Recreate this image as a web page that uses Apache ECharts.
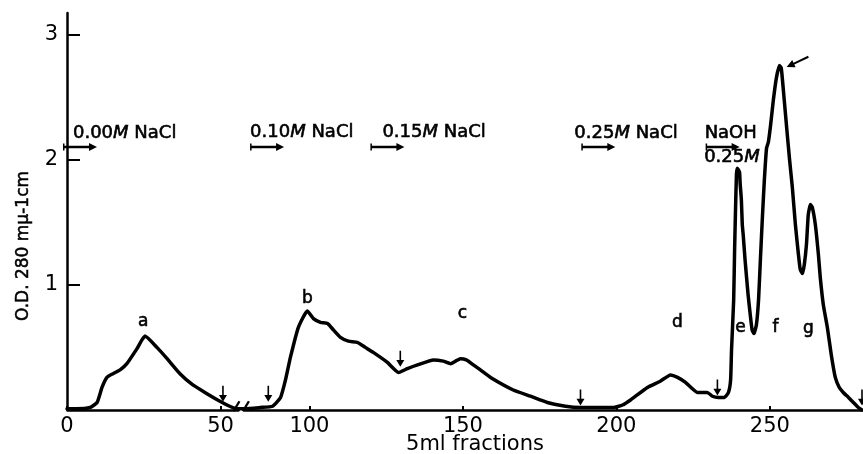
<!DOCTYPE html>
<html><head><meta charset="utf-8">
<script src="https://cdn.jsdelivr.net/npm/echarts@6/dist/echarts.min.js"></script>
<style>html,body{margin:0;padding:0;background:#fff}#c{width:863px;height:454px}</style>
</head><body><div id="c"></div>
<script>
// ---- data ----
// fraction number (5 ml fractions) and O.D. 280 mμ for the elution profile
const fractions = [0,3,7.5,9.8,11.4,13,15,17.3,19.5,22.8,25.4,29.3,32.6,36.8,41,45.6,49.8,53,55.4,
  79,84,88,90.6,92.2,93.8,96.4,99.3,101.3,103.6,105.9,107.8,110.1,112.7,115.6,118.2,120.8,125.4,129,131.9,135.2,140.4,143.6,146,147.6,149.2,151.1,153.4,155.7,159,166.4,172,177.5,183.4,188.3,194.1,199,202,204.6,210.1,214.3,217.6,219.9,222.5,226.4,229.6,231.3,233.2,235.2,236.5,237.2,237.5,238.2,238.5,238.8,239.1,239.4,240.1,240.3,240.7,241,241.3,241.9,242.9,243.6,244.2,244.8,245.6,246.3,246.9,247.6,248.2,248.9,249.5,250.2,251.1,252.1,253.1,253.7,254.4,255.4,256.4,257.3,258.3,259.3,259.9,260.6,261.2,261.9,262.5,263.2,263.8,264.8,265.8,266.4,267.4,268.7,270,271.3,272.6,273.9,275.6,277.2,278.8,280];
const od280 = [0.01,0.01,0.02,0.06,0.18,0.26,0.29,0.32,0.37,0.49,0.59,0.50,0.41,0.29,0.20,0.13,0.07,0.03,0.01,
  0.01,0.02,0.03,0.10,0.24,0.42,0.66,0.79,0.73,0.70,0.69,0.64,0.58,0.55,0.54,0.50,0.46,0.38,0.30,0.33,0.36,0.40,0.39,0.37,0.39,0.41,0.40,0.36,0.32,0.26,0.16,0.11,0.06,0.03,0.02,0.02,0.02,0.04,0.08,0.18,0.23,0.28,0.26,0.22,0.14,0.14,0.11,0.10,0.10,0.14,0.24,0.48,0.88,1.28,1.60,1.88,1.93,1.90,1.81,1.68,1.48,1.40,1.20,0.92,0.76,0.64,0.61,0.68,0.88,1.20,1.56,1.84,2.09,2.14,2.27,2.47,2.65,2.75,2.73,2.55,2.27,2.00,1.78,1.48,1.24,1.12,1.09,1.16,1.32,1.56,1.64,1.62,1.48,1.24,1.06,0.84,0.66,0.44,0.26,0.18,0.14,0.10,0.06,0.02,0];

// tick values
const xTicks = [0,50,100,150,200,250];
const yTicks = [1,2,3];
// axis break (fractions not shown)
const breakStart = 55.7, breakEnd = 78.8;
// break marks drawn on the baseline either side of the break
const breakMarkX = [55.2, 79.3];
const breakMarkY = [0.03, 0.03];

// peak letters
const peakNames = ['a','b','c','d','e','f','g'];
const peakX = [24.8,99.3,149.8,219.9,240.4,251.8,262.5];
const peakY = [0.71,0.89,0.77,0.70,0.66,0.66,0.65];

// small down arrows marking pooled-fraction cuts
const cutX = [50.8,86.6,129.6,188.3,232.9,280];
const cutY = [0.13,0.13,0.41,0.10,0.18,0.10];

// eluent steps
const stepConc = ['0.00','0.10','0.15','0.25'];
const stepSalt = ['NaCl','NaCl','NaCl','NaCl'];
const stepX = [4.23,86.2,125.4,194.1,234.6];
const stepY = 2.10;

// arrow pointing at peak f
const peakArrowX = 259, peakArrowY = 2.78;

// ---- styles / option ----
const FONT = 'DejaVu Sans';
const labelOffsets = [[10,-10],[0,-11],[12,-11],[-7,-10],[-1,-10]];
const stepItems = stepX.map((x, i) => {
  const txt = i < 4 ? '{n|' + stepConc[i] + '}{m|M}{n| ' + stepSalt[i] + '}' : '{n|NaOH}';
  return {value: [x, stepY], label: {position: labelOffsets[i], formatter: txt}};
});

const chart = echarts.init(document.getElementById('c'), null, {renderer: 'canvas'});
const stroke = {textBorderColor: '#000', textBorderWidth: 0.6};
const richText = {
  n: Object.assign({fontSize: 18, fontFamily: FONT, color: '#000'}, stroke),
  m: Object.assign({fontSize: 18, fontFamily: FONT, fontStyle: 'italic', color: '#000'}, stroke)
};
const ink = {color: '#000', opacity: 1};
chart.setOption({
  backgroundColor: '#fff',
  animation: false,
  grid: {left: 67, right: 1, top: 13, bottom: 44},
  xAxis: {
    type: 'value', min: 0, max: 280,
    breaks: [{start: breakStart, end: breakEnd, gap: '0.8%'}],
    breakArea: {show: false, expandOnClick: false},
    axisLine: {show: true, onZero: false, lineStyle: {color: '#000', width: 2.5}},
    axisTick: {show: true, inside: true, length: 4, customValues: xTicks, lineStyle: {color: '#000', width: 2}},
    axisLabel: {customValues: xTicks, color: '#000', fontSize: 21, fontFamily: FONT, margin: 6},
    splitLine: {show: false}
  },
  yAxis: {
    type: 'value', min: 0, max: 3.17,
    axisLine: {show: true, lineStyle: {color: '#000', width: 2.5}},
    axisTick: {show: true, inside: true, length: 13, customValues: yTicks, lineStyle: {color: '#000', width: 2}},
    axisLabel: {customValues: yTicks, color: '#000', fontSize: 21, fontFamily: FONT, margin: 9},
    splitLine: {show: false}
  },
  graphic: [
    {type: 'text', x: 24, y: 246, rotation: Math.PI / 2,
     style: {text: 'O.D. 280 mμ-1cm', font: '17px "DejaVu Sans"', fill: '#000', stroke: '#000', lineWidth: 0.5, align: 'center', verticalAlign: 'middle'}},
    {type: 'text', x: 475, y: 445,
     style: {text: '5ml fractions', font: '21px "DejaVu Sans"', fill: '#000', align: 'center', verticalAlign: 'middle'}}
  ],
  series: [
    {
      name: 'O.D. 280', type: 'line', showSymbol: false, smooth: 0.15,
      data: fractions.map((x, i) => [x, od280[i]]),
      lineStyle: {color: '#000', width: 3.5, join: 'round', cap: 'round', opacity: 1},
      z: 3
    },
    {
      name: 'breakMarks', type: 'scatter', clip: false, silent: true,
      symbol: 'path://M0,10 L6,0 L8,1 L2,11 Z', symbolSize: [8, 11],
      itemStyle: ink,
      data: breakMarkX.map((x, i) => [x, breakMarkY[i]])
    },
    {
      name: 'cuts', type: 'scatter', clip: false, silent: true,
      symbol: 'path://M4,0 L6,0 L6,11 L10,11 L5,19 L0,11 L4,11 Z', symbolSize: [8, 16],
      itemStyle: ink,
      data: cutX.map((x, i) => [x, cutY[i]])
    },
    {
      name: 'peaks', type: 'scatter', clip: false, silent: true, symbolSize: 0,
      itemStyle: ink,
      data: peakNames.map((n, i) => ({name: n, value: [peakX[i], peakY[i]]})),
      label: Object.assign({show: true, position: 'inside', formatter: '{b}', color: '#000', fontSize: 17, fontFamily: FONT, opacity: 1}, stroke)
    },
    {
      name: 'steps', type: 'scatter', clip: false, silent: true,
      symbol: 'path://M0,1 L1.5,1 L1.5,3 L26,3 L26,0.5 L34,4 L26,7.5 L26,5 L1.5,5 L1.5,7 L0,7 Z', symbolSize: [34, 8],
      itemStyle: ink,
      data: stepItems,
      label: {show: true, align: 'left', verticalAlign: 'middle', color: '#000', opacity: 1, rich: richText}
    },
    {
      name: 'stepSub', type: 'scatter', clip: false, silent: true,
      symbol: 'circle', symbolSize: 1, itemStyle: {color: 'rgba(0,0,0,0)', opacity: 1},
      data: [[stepX[4], stepY]],
      label: {show: true, position: [-18, 11], align: 'left', verticalAlign: 'middle', color: '#000', opacity: 1,
        formatter: '{n|' + stepConc[3] + '}{m|M}', rich: richText}
    },
    {
      name: 'peakArrow', type: 'scatter', clip: false, silent: true,
      symbol: 'path://M0,4 L8,0 L8,3 L24,3 L24,5 L8,5 L8,8 Z', symbolSize: [24, 8], symbolRotate: 25,
      itemStyle: ink,
      data: [[peakArrowX, peakArrowY]]
    }
  ]
});
</script></body></html>
